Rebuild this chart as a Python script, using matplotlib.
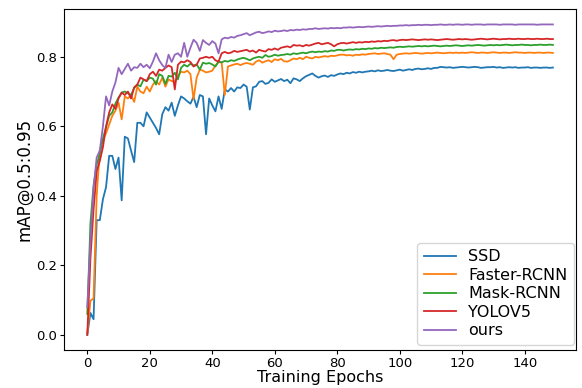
"""mAP curves over training epochs"""

import matplotlib
matplotlib.use('Agg')
import matplotlib.pyplot as plt

epochs = list(range(150))

ssd = [
    0.000, 0.063, 0.045, 0.330, 0.330, 0.390, 0.425, 0.515, 0.515, 0.477,
    0.510, 0.387, 0.570, 0.565, 0.530, 0.497, 0.610, 0.610, 0.600, 0.640,
    0.625, 0.610, 0.595, 0.577, 0.635, 0.655, 0.645, 0.668, 0.630, 0.660,
    0.686, 0.680, 0.672, 0.665, 0.685, 0.655, 0.690, 0.686, 0.577, 0.680,
    0.660, 0.643, 0.686, 0.650, 0.706, 0.700, 0.710, 0.700, 0.712, 0.710,
    0.720, 0.714, 0.648, 0.712, 0.715, 0.728, 0.730, 0.722, 0.725, 0.735,
    0.728, 0.732, 0.736, 0.730, 0.734, 0.724, 0.738, 0.735, 0.730, 0.738,
    0.744, 0.748, 0.752, 0.745, 0.740, 0.744, 0.746, 0.742, 0.747, 0.745,
    0.749, 0.752, 0.750, 0.754, 0.752, 0.756, 0.754, 0.757, 0.755, 0.757,
    0.758, 0.760, 0.758, 0.761, 0.759, 0.760, 0.762, 0.760, 0.759, 0.761,
    0.763, 0.760, 0.762, 0.764, 0.762, 0.765, 0.766, 0.764, 0.765, 0.767,
    0.765, 0.768, 0.768, 0.771, 0.770, 0.769, 0.770, 0.768, 0.769, 0.770,
    0.771, 0.770, 0.769, 0.770, 0.771, 0.770, 0.768, 0.769, 0.770, 0.770,
    0.771, 0.769, 0.770, 0.768, 0.769, 0.770, 0.769, 0.770, 0.768, 0.769,
    0.769, 0.770, 0.768, 0.769, 0.769, 0.768, 0.769, 0.769, 0.768, 0.769,
]

faster_rcnn = [
    0.005, 0.098, 0.105, 0.400, 0.530, 0.560, 0.580, 0.605, 0.630, 0.645,
    0.668, 0.620, 0.686, 0.680, 0.690, 0.670, 0.714, 0.700, 0.695, 0.714,
    0.700, 0.720, 0.730, 0.720, 0.740, 0.714, 0.735, 0.730, 0.728, 0.745,
    0.757, 0.755, 0.760, 0.750, 0.678, 0.740, 0.763, 0.760, 0.755, 0.757,
    0.760, 0.775, 0.785, 0.783, 0.690, 0.772, 0.775, 0.778, 0.780, 0.776,
    0.780, 0.782, 0.780, 0.777, 0.786, 0.790, 0.783, 0.787, 0.790, 0.785,
    0.793, 0.790, 0.794, 0.787, 0.786, 0.790, 0.795, 0.793, 0.797, 0.793,
    0.800, 0.797, 0.795, 0.800, 0.798, 0.800, 0.802, 0.800, 0.803, 0.802,
    0.804, 0.806, 0.806, 0.804, 0.805, 0.803, 0.806, 0.805, 0.807, 0.806,
    0.808, 0.809, 0.810, 0.808, 0.809, 0.810, 0.808, 0.806, 0.793, 0.806,
    0.808, 0.809, 0.810, 0.809, 0.810, 0.811, 0.810, 0.809, 0.810, 0.811,
    0.810, 0.811, 0.812, 0.811, 0.810, 0.811, 0.812, 0.811, 0.812, 0.811,
    0.812, 0.811, 0.812, 0.813, 0.812, 0.811, 0.812, 0.812, 0.811, 0.812,
    0.813, 0.812, 0.811, 0.812, 0.812, 0.811, 0.812, 0.813, 0.812, 0.812,
    0.811, 0.812, 0.812, 0.811, 0.812, 0.812, 0.811, 0.812, 0.812, 0.811,
]

mask_rcnn = [
    0.060, 0.320, 0.430, 0.490, 0.520, 0.565, 0.597, 0.630, 0.640, 0.665,
    0.683, 0.697, 0.700, 0.695, 0.690, 0.710, 0.720, 0.715, 0.734, 0.730,
    0.740, 0.737, 0.720, 0.750, 0.745, 0.722, 0.745, 0.743, 0.754, 0.735,
    0.768, 0.777, 0.772, 0.780, 0.775, 0.778, 0.763, 0.783, 0.780, 0.782,
    0.778, 0.772, 0.786, 0.784, 0.788, 0.786, 0.790, 0.788, 0.792, 0.795,
    0.797, 0.794, 0.790, 0.795, 0.798, 0.800, 0.797, 0.805, 0.800, 0.802,
    0.806, 0.803, 0.805, 0.806, 0.808, 0.806, 0.810, 0.808, 0.810, 0.812,
    0.810, 0.813, 0.815, 0.813, 0.815, 0.814, 0.816, 0.815, 0.818, 0.817,
    0.820, 0.820, 0.818, 0.820, 0.821, 0.820, 0.822, 0.821, 0.823, 0.822,
    0.824, 0.823, 0.825, 0.824, 0.826, 0.825, 0.826, 0.827, 0.826, 0.828,
    0.829, 0.828, 0.829, 0.830, 0.829, 0.830, 0.831, 0.830, 0.831, 0.830,
    0.831, 0.832, 0.831, 0.830, 0.831, 0.832, 0.831, 0.832, 0.833, 0.832,
    0.831, 0.832, 0.833, 0.832, 0.833, 0.834, 0.833, 0.832, 0.833, 0.834,
    0.833, 0.834, 0.833, 0.834, 0.835, 0.834, 0.833, 0.834, 0.834, 0.835,
    0.834, 0.834, 0.833, 0.834, 0.834, 0.835, 0.834, 0.834, 0.835, 0.834,
]

yolov5 = [
    0.000, 0.220, 0.360, 0.470, 0.500, 0.540, 0.600, 0.640, 0.663, 0.650,
    0.680, 0.697, 0.690, 0.700, 0.680, 0.712, 0.720, 0.740, 0.735, 0.730,
    0.750, 0.757, 0.745, 0.763, 0.760, 0.768, 0.775, 0.770, 0.706, 0.777,
    0.786, 0.784, 0.790, 0.785, 0.772, 0.777, 0.795, 0.797, 0.800, 0.797,
    0.800, 0.790, 0.786, 0.810, 0.814, 0.810, 0.812, 0.817, 0.814, 0.816,
    0.818, 0.820, 0.815, 0.818, 0.812, 0.820, 0.817, 0.815, 0.822, 0.820,
    0.824, 0.820, 0.826, 0.828, 0.830, 0.827, 0.834, 0.832, 0.833, 0.830,
    0.834, 0.832, 0.835, 0.838, 0.840, 0.836, 0.838, 0.840, 0.836, 0.830,
    0.836, 0.839, 0.840, 0.838, 0.840, 0.842, 0.840, 0.842, 0.841, 0.843,
    0.842, 0.844, 0.843, 0.845, 0.844, 0.846, 0.845, 0.847, 0.848, 0.846,
    0.848, 0.849, 0.848, 0.849, 0.850, 0.849, 0.848, 0.849, 0.850, 0.849,
    0.850, 0.849, 0.848, 0.849, 0.850, 0.851, 0.850, 0.849, 0.850, 0.851,
    0.850, 0.851, 0.850, 0.849, 0.850, 0.851, 0.852, 0.851, 0.850, 0.851,
    0.852, 0.851, 0.850, 0.851, 0.851, 0.852, 0.851, 0.851, 0.852, 0.851,
    0.851, 0.852, 0.851, 0.851, 0.852, 0.851, 0.851, 0.852, 0.851, 0.851,
]

ours = [
    0.080, 0.270, 0.420, 0.510, 0.530, 0.600, 0.686, 0.660, 0.700, 0.726,
    0.768, 0.750, 0.765, 0.780, 0.760, 0.770, 0.768, 0.780, 0.770, 0.777,
    0.767, 0.786, 0.810, 0.790, 0.776, 0.768, 0.806, 0.785, 0.806, 0.810,
    0.800, 0.840, 0.800, 0.826, 0.849, 0.840, 0.817, 0.848, 0.840, 0.834,
    0.845, 0.838, 0.810, 0.850, 0.855, 0.853, 0.857, 0.855, 0.860, 0.862,
    0.865, 0.868, 0.862, 0.866, 0.870, 0.872, 0.868, 0.870, 0.873, 0.871,
    0.875, 0.873, 0.874, 0.876, 0.874, 0.877, 0.876, 0.878, 0.877, 0.879,
    0.878, 0.880, 0.880, 0.882, 0.880, 0.881, 0.882, 0.881, 0.883, 0.882,
    0.883, 0.882, 0.884, 0.884, 0.885, 0.884, 0.885, 0.886, 0.885, 0.886,
    0.887, 0.886, 0.887, 0.888, 0.887, 0.888, 0.889, 0.888, 0.889, 0.889,
    0.890, 0.890, 0.891, 0.890, 0.891, 0.891, 0.892, 0.891, 0.892, 0.892,
    0.891, 0.892, 0.892, 0.893, 0.892, 0.892, 0.893, 0.892, 0.893, 0.893,
    0.892, 0.893, 0.893, 0.892, 0.893, 0.893, 0.893, 0.892, 0.893, 0.893,
    0.893, 0.893, 0.892, 0.893, 0.893, 0.893, 0.893, 0.892, 0.893, 0.893,
    0.893, 0.893, 0.893, 0.893, 0.892, 0.893, 0.893, 0.893, 0.893, 0.893,
]

series = [
    ('SSD', ssd),
    ('Faster-RCNN', faster_rcnn),
    ('Mask-RCNN', mask_rcnn),
    ('YOLOV5', yolov5),
    ('ours', ours),
]

fig = plt.figure(figsize=(5.82, 3.88), dpi=100)
ax = fig.add_axes([0.110, 0.097, 0.880, 0.880])

for name, values in series:
    ax.plot(epochs, values, label=name, linewidth=1.3)

ax.set_xticks([0, 20, 40, 60, 80, 100, 120, 140])
ax.set_yticks([0.0, 0.2, 0.4, 0.6, 0.8])
ax.tick_params(labelsize=9.5, pad=2, length=3)

ax.set_xlabel('Training Epochs', fontsize=11.5, labelpad=0)
ax.set_ylabel('mAP@0.5:0.95', fontsize=12, labelpad=2)

# legend sits tight in the lower right corner
ax.legend(loc='lower right', bbox_to_anchor=(0.996, 0.017), borderaxespad=0,
          fontsize=11.5, labelspacing=0.22, handlelength=2.0)

fig.savefig('out.png', dpi=100)
